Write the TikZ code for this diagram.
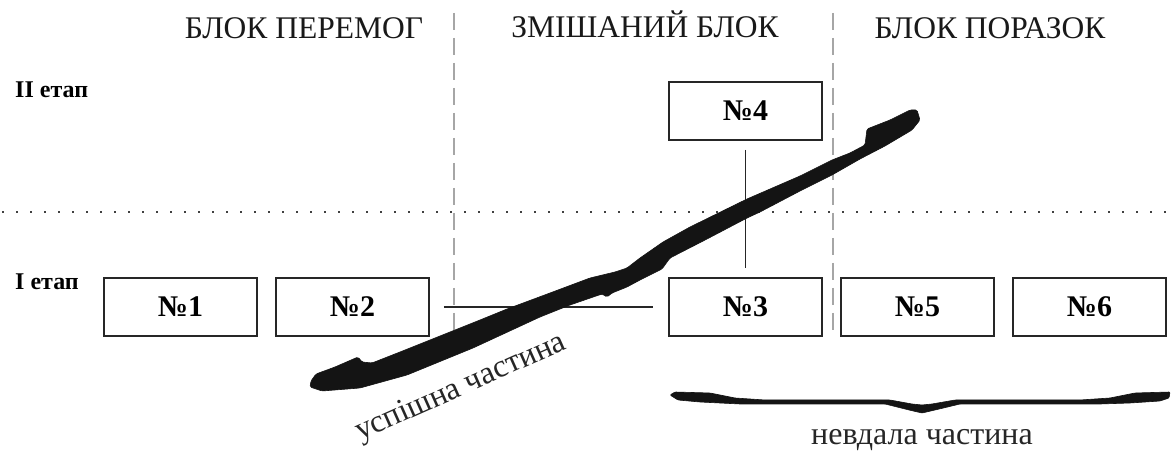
\documentclass[tikz,border=0pt]{standalone}
\usepackage{fontspec}
\setmainfont{Liberation Serif}
\begin{document}
\begin{tikzpicture}[x=1pt,y=-1pt,
  numbox/.style={draw=black!85,line width=1.6pt,minimum width=153pt,minimum height=58pt,inner sep=0pt,font=\fontsize{30}{30}\selectfont\bfseries},
  header/.style={font=\fontsize{31.5}{31.5}\selectfont,inner sep=0pt,text=black!90,anchor=base},
  stage/.style={font=\fontsize{24}{24}\selectfont\bfseries,inner sep=0pt,anchor=base west},
  partlabel/.style={font=\fontsize{32}{32}\selectfont,inner sep=0pt,text=black!85},
  divider/.style={draw=black!35,line width=1.8pt,dash pattern=on 17pt off 8pt},
  stagediv/.style={draw=black!75,line width=1.2pt,dash pattern=on 2pt off 12pt},
  link/.style={draw=black!85,line width=1.2pt},
  brush/.style={fill=black!92,draw=black!92,line width=0.6pt,rounded corners=1.5pt}]
\useasboundingbox (0,0) rectangle (1171,454);
\fill[white] (0,0) rectangle (1171,454);

% headers
\node[header] (hwin) at (304,39) {БЛОК ПЕРЕМОГ};
\node[header] (hmix) at (645,38) {ЗМІШАНИЙ БЛОК};
\node[header] (hlose) at (990,39) {БЛОК ПОРАЗОК};

% dividers
\coordinate (d1t) at (454,13);
\coordinate (d1b) at (454,336);
\coordinate (d2t) at (833,13);
\coordinate (d2b) at (833,336);
\draw[divider] (d1t) -- (d1b);
\draw[divider] (d2t) -- (d2b);
\coordinate (sl) at (2,212);
\coordinate (sr) at (1171,212);
\draw[stagediv] (sl) -- (sr);

% stage labels
\node[stage] (st2) at (15,98) {II етап};
\node[stage] (st1) at (15,290) {I етап};

% boxes
\node[numbox] (n1) at (180.5,307) {№1};
\node[numbox] (n2) at (352.5,307) {№2};
\node[numbox] (n3) at (745.5,307) {№3};
\node[numbox] (n4) at (745.5,111) {№4};
\node[numbox] (n5) at (917.5,307) {№5};
\node[numbox] (n6) at (1089.5,307) {№6};

% connectors
\draw[link,shorten <=14pt,shorten >=15pt] (n2.east) -- (n3.west);
\draw[link,shorten <=9pt,shorten >=9pt] (n4.south) -- (n3.north);

% thick brush stroke
\fill[brush] (311,381) -- (316,374) -- (335,367) -- (358,357) -- (362,362) -- (372,363)
  -- (400,352) -- (440,336) -- (480,320) -- (507,309) -- (550,293) -- (590,278)
  -- (615,272) -- (627,268) -- (640,258) -- (663,242) -- (690,227) -- (747,199)
  -- (800,176) -- (832,160) -- (850,153) -- (865,145) -- (867,129) -- (890,120)
  -- (910,110) -- (917,110)
  -- (920,120) -- (912,130) -- (885,146) -- (860,159) -- (832,175) -- (800,191)
  -- (760,212) -- (747,218) -- (707,239) -- (670,258) -- (662,269) -- (640,280)
  -- (627,287) -- (612,293) -- (607,297) -- (602,294) -- (570,305) -- (540,317)
  -- (473,348) -- (407,375) -- (360,388) -- (322,391) -- (310,387) -- cycle;

% brace
\fill[brush,rounded corners=1pt] (670,395) -- (675,392) -- (710,393) -- (735,398) -- (765,400)
  -- (890,400) -- (912,404) -- (922,405) -- (932,404) -- (955,400) -- (1080,400)
  -- (1110,398) -- (1135,393) -- (1170,392) -- (1169,398) -- (1160,401)
  -- (1130,403) -- (1100,404) -- (960,404) -- (935,410) -- (922,413) -- (909,410)
  -- (885,404) -- (740,404) -- (700,402) -- (678,400) -- cycle;

% part labels
\node[partlabel,rotate=24,anchor=base west] (succ) at (360,441) {успішна частина};
\node[partlabel,anchor=base] (fail) at (922,445) {невдала частина};
\end{tikzpicture}
\end{document}
